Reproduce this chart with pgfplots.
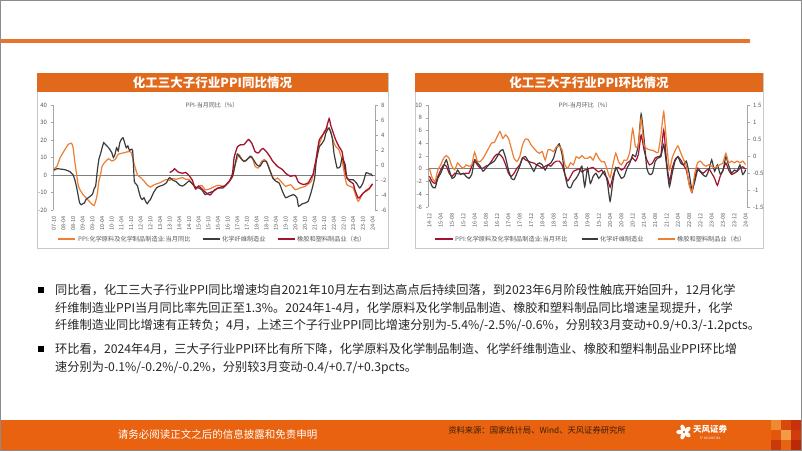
\documentclass[border=0pt]{standalone}
\usepackage{pgfplots}
\pgfplotsset{compat=1.18}
\usepackage{fontspec}
\setmainfont{Noto Sans CJK SC}
\definecolor{cOrange}{HTML}{EE7E32}
\definecolor{cGray}{HTML}{3C3C3C}
\definecolor{cRed}{HTML}{A3122E}
\definecolor{barOrange}{HTML}{E0691C}
\definecolor{axGray}{HTML}{A6A6A6}
\definecolor{zeroGray}{HTML}{7F7F7F}
\definecolor{lblGray}{HTML}{595959}
\definecolor{panelGray}{HTML}{C8C8C8}
\definecolor{footOrange}{HTML}{E8620F}
\definecolor{topOrange}{HTML}{E8732A}
\definecolor{txt}{HTML}{262626}
\definecolor{srcTxt}{HTML}{3B1E0A}
\definecolor{slideBorder}{HTML}{8C8C8C}
\definecolor{sqA}{HTML}{F08A30}
\definecolor{sqB}{HTML}{D9480C}
\definecolor{sqC}{HTML}{C8320A}
\definecolor{sqD}{HTML}{E2560E}
\definecolor{sqE}{HTML}{F29A45}
\definecolor{sqF}{HTML}{D03C0B}
\definecolor{sqG}{HTML}{C93A0A}
\definecolor{sqH}{HTML}{E4640F}
\definecolor{sqI}{HTML}{B92A08}

\pgfplotsset{
  chartbase/.style={
    scale only axis, anchor=south west,
    axis line style={draw=axGray, line width=0.6pt},
    tick style={draw=axGray, line width=0.5pt},
    major tick length=2.5pt,
    tick align=outside,
    ticklabel style={font=\fontsize{6}{7}\selectfont, text=lblGray},
    /pgf/number format/assume math mode=true,
    clip=false,
  },
}

\begin{document}
\begin{tikzpicture}[x=1pt,y=1pt]
\useasboundingbox (0,0) rectangle (802,-451);
\fill[white] (0,0) rectangle (802,-451);

% top orange rule
\fill[topOrange] (0,-39) rectangle (750,-42.5);

% ---------------- panels ----------------
\draw[panelGray, line width=0.8pt] (37,-73) rectangle (388,-248);
\fill[barOrange] (37,-73) rectangle (388,-92);
\node[text=white, font=\fontsize{12.5}{13}\selectfont\bfseries] at (212.5,-82.5) {化工三大子行业PPI同比情况};

\draw[panelGray, line width=0.8pt] (415,-73) rectangle (763,-248);
\fill[barOrange] (415,-73) rectangle (763,-92);
\node[text=white, font=\fontsize{12.5}{13}\selectfont\bfseries] at (589,-82.5) {化工三大子行业PPI环比情况};

% ---------------- left chart: YoY ----------------
\begin{axis}[chartbase, at={(53pt,-210pt)}, width=322pt, height=105pt,
  xmin=-0.5, xmax=199.5, ymin=-20, ymax=40,
  axis y line*=left, axis x line*=bottom, x axis line style={draw=none},
  xtick={0,6,...,198},
  xticklabels={07-10,08-04,08-10,09-04,09-10,10-04,10-10,11-04,11-10,12-04,12-10,13-04,13-10,14-04,14-10,15-04,15-10,16-04,16-10,17-04,17-10,18-04,18-10,19-04,19-10,20-04,20-10,21-04,21-10,22-04,22-10,23-04,23-10,24-04},
  xticklabel style={rotate=90, anchor=east, font=\fontsize{5.5}{6}\selectfont},
  x tick style={draw=none},
  ytick={-20,-10,...,40}]
\draw[zeroGray, line width=0.6pt] (axis cs:-0.5,0) -- (axis cs:199.5,0);
\addplot[cOrange, line width=1.2pt, smooth, tension=0.3] coordinates {
(0,3.5)(2,5)(4,10)(7,14.7)(9,17.5)(11,18.2)(12,15.5)(13,8)(15,-5)(16,-8)(18,-11)(20,-13)(22,-15)(24,-17)(25,-17.5)(26,-15)(27,-11)(28,-3.5)(29,0)(30,5)(32,7.6)(34,9.3)(36,8)(38,8.8)(40,11.8)(42,12.4)(44,12.8)(46,13.3)(48,13)(50,6)(52,0)(54,-1.5)(56,-3.4)(58,-5.7)(60,-6.9)(62,-5.7)(64,-5)(66,-4.4)(68,-3.4)(70,-2.5)(72,-3)(74,-2)(76,-2.5)(78,-1.9)(80,-1.5)(82,-2.5)(84,-2.5)(86,-5)(88,-7.2)(90,-6.5)(92,-6)(94,-8.4)(96,-8.2)(98,-7.4)(100,-6.5)(102,-5.9)(104,-6.2)(106,-6.5)(108,-4.5)(109,-3.6)(111,-0.8)(113,6.9)(115,11.6)(117,8.8)(119,7.8)(121,9.7)(123,10.7)(125,5)(127,4)(129,7.8)(131,8.8)(133,5.9)(135,1.1)(137,-2.7)(139,-1.7)(141,-3.6)(144,-6.5)(147,-5.5)(150,-8.4)(153,-7.4)(156,-6.5)(159,-4.5)(160,-3.6)(162,4)(164,15.4)(166,20.2)(168,25)(170,27)(172,25)(173,21)(175,16.4)(177,14.5)(179,8.8)(181,-2)(182,-5.5)(184,-6.5)(186,-7.4)(188,-13)(189,-15)(190,-14)(192,-10.3)(194,-9.3)(196,-8)(197,-6.3)(198,-5.4)
};
\addplot[cGray, line width=1.2pt, smooth, tension=0.3] coordinates {
(0,2.7)(2,3.6)(4,3.4)(6,3.2)(8,2.7)(10,1.9)(12,0)(13,-2.5)(14,-6.3)(15,-11)(16,-15.8)(17,-17)(18,-16.4)(19,-16)(20,-14)(22,-12.6)(24,-11)(25,-8)(26,-6.3)(27,2.3)(28,9)(29,12)(30,15.6)(31,18.5)(32,17.5)(34,15.6)(36,12.8)(37,10)(38,11.8)(39,15.6)(40,13.7)(41,18.5)(42,20.4)(43,21.3)(44,18.5)(45,15.6)(46,16.6)(47,14)(48,14.7)(49,13.7)(50,-3.4)(51,-5)(52,-6.3)(53,-10)(54,-13)(55,-14)(56,-13)(57,-15)(58,-16.4)(59,-15)(60,-14)(62,-10)(64,-7.2)(66,-6.3)(68,-5.7)(70,-4.4)(71,-2.5)(72,-1.5)(74,-3)(76,-3.8)(78,-5.7)(80,-6.3)(82,-5)(84,-3.4)(86,-5)(88,-6.9)(90,-7.4)(92,-8.5)(94,-11.2)(96,-10.3)(99,-9.3)(102,-7.4)(105,-7.4)(108,-4.6)(111,-0.8)(113,7.8)(114,12)(116,9.7)(118,7.8)(120,8.8)(122,10.7)(124,8.8)(126,5.9)(128,5)(130,7.8)(132,7.8)(134,3)(136,-1.7)(138,-3.6)(140,-4.6)(142,-9.3)(144,-13)(146,-12.2)(149,-11.2)(151,-13)(152,-17.9)(154,-16.6)(156,-16)(158,-15)(160,-9.3)(162,-1.7)(163,7.8)(165,16.4)(166,17.3)(168,20.2)(169,24)(171,26.9)(173,21)(174,12.6)(176,4)(178,5)(179,9.7)(181,5.9)(182,-1.7)(184,-2.7)(186,-2.7)(188,-4.6)(190,-7.4)(192,-4.6)(194,1.3)(196,0.6)(197,0.6)(198,-0.6)
};
\end{axis}
\begin{axis}[chartbase, at={(53pt,-210pt)}, width=322pt, height=105pt,
  xmin=-0.5, xmax=199.5, ymin=-6, ymax=8,
  axis y line*=right, axis x line=none, ytick={-6,-4,...,8}]
\addplot[cRed, line width=1.3pt, smooth, tension=0.3] coordinates {
(72,-1.0)(74,-0.75)(75,-0.5)(77,-0.9)(78,-1.0)(80,-1.1)(82,-1.0)(84,-1.4)(86,-2.0)(88,-3.2)(90,-2.8)(92,-3.2)(94,-3.6)(97,-4.0)(100,-3.3)(103,-3.0)(106,-2.8)(109,-2.2)(111,-1.1)(112,1.0)(114,2.4)(116,2.7)(118,2.7)(120,3.2)(121,3.4)(123,2.9)(125,1.8)(127,1.6)(129,2.1)(130,2.2)(132,1.8)(134,1.2)(136,0.5)(139,-0.2)(142,-0.6)(144,-1.1)(147,-1.5)(150,-1.4)(152,-2.3)(155,-2.6)(158,-2.4)(160,-1.6)(161,-1.3)(162,-0.2)(163,0.8)(164,2.3)(165,3.4)(167,4.0)(169,4.7)(171,6.2)(172,5.3)(174,4.0)(175,3.4)(177,2.5)(179,1.8)(180,0.5)(181,-0.8)(182,-1.7)(184,-2.2)(186,-2.5)(187,-3.3)(189,-4.4)(190,-4.3)(192,-3.8)(194,-3.4)(196,-3.1)(197,-2.8)(198,-2.5)
};
\end{axis}
\node[font=\fontsize{6}{7}\selectfont, text=lblGray] at (212,-105) {PPI-当月同比（\%）};
% legend left
\draw[cOrange, line width=1.3pt] (58,-239) -- (75,-239);
\node[anchor=west, inner sep=0, font=\fontsize{6.2}{7}\selectfont, text=lblGray] at (78,-239) {PPI:化学原料及化学制品制造业:当月同比};
\draw[cGray, line width=1.3pt] (203,-239) -- (220,-239);
\node[anchor=west, inner sep=0, font=\fontsize{6.2}{7}\selectfont, text=lblGray] at (222,-239) {化学纤维制造业};
\draw[cRed, line width=1.3pt] (278,-239) -- (295,-239);
\node[anchor=west, inner sep=0, font=\fontsize{6.2}{7}\selectfont, text=lblGray] at (297,-239) {橡胶和塑料制品业（右）};

% ---------------- right chart: MoM ----------------
\begin{axis}[chartbase, at={(428pt,-207pt)}, width=319pt, height=102pt,
  xmin=-0.5, xmax=112.5, ymin=-6, ymax=10,
  axis y line*=left, axis x line*=bottom, x axis line style={draw=none},
  xtick={0,4,...,112},
  xticklabels={14-12,15-04,15-08,15-12,16-04,16-08,16-12,17-04,17-08,17-12,18-04,18-08,18-12,19-04,19-08,19-12,20-04,20-08,20-12,21-04,21-08,21-12,22-04,22-08,22-12,23-04,23-08,23-12,24-04},
  xticklabel style={rotate=90, anchor=east, font=\fontsize{5.5}{6}\selectfont},
  x tick style={draw=none},
  ytick={-6,-4,...,10}]
\draw[zeroGray, line width=0.6pt] (axis cs:-0.5,0) -- (axis cs:112.5,0);
\addplot[cRed, line width=1.2pt, smooth, tension=0.3] coordinates {
(0,-1.2)(1,-2)(2,-2.3)(3,-1.2)(4,-0.2)(5,0.6)(6,0.4)(7,-0.7)(8,-1.2)(9,-0.7)(10,-0.8)(11,-0.8)(12,-0.8)(13,-0.7)(14,-0.7)(15,0.4)(16,1.2)(17,0.6)(18,0.1)(19,0.1)(20,0.4)(21,0.6)(22,1.2)(23,1.9)(24,2.3)(25,2.2)(26,1.7)(27,0.6)(28,-0.7)(29,-1.2)(30,-0.7)(31,0.1)(32,0.6)(33,1.7)(34,1.4)(35,1.2)(36,1.0)(37,0.9)(38,0.6)(39,0.4)(40,0.1)(41,0.4)(42,0.6)(43,0.4)(44,0.9)(45,1.2)(46,1.2)(47,0.6)(48,-0.9)(49,-1.9)(50,-1.2)(51,-0.4)(52,-0.2)(53,0)(54,-0.5)(55,-0.2)(56,-0.1)(57,0.1)(58,0.2)(59,-0.2)(60,-0.5)(61,-0.2)(62,-0.9)(63,-1.5)(64,-2.9)(65,-1.2)(66,0)(67,0.2)(68,-0.2)(69,0.1)(70,0.9)(71,1.2)(72,1.7)(73,1.2)(74,2.2)(75,5.3)(76,3.0)(77,1.4)(78,0.6)(79,0.9)(80,1.7)(81,1.9)(82,2.2)(83,6.1)(84,1.2)(85,-2.0)(86,0.1)(87,1.4)(88,1.9)(89,1.4)(90,0.6)(91,-0.2)(92,-2.3)(93,-3.7)(94,-1.5)(95,0.1)(96,-0.4)(97,-0.7)(98,-0.3)(99,0)(100,-0.7)(101,-1.5)(102,-2.6)(103,-1.2)(104,-0.2)(105,0.9)(106,-0.2)(107,-0.9)(108,-0.7)(109,-0.4)(110,0.1)(111,0.3)(112,-0.1)
};
\addplot[cGray, line width=1.2pt, smooth, tension=0.3] coordinates {
(0,-1.7)(1,-2.8)(2,-3)(3,-1.5)(4,-0.7)(5,0.4)(6,1.4)(7,-0.2)(8,-1.5)(9,-1.2)(10,-0.2)(11,-0.9)(12,-0.7)(13,-1.2)(14,-1.5)(15,-0.9)(16,1.4)(17,0.9)(18,0.4)(19,-0.4)(20,0.1)(21,0.6)(22,0.9)(23,1.2)(24,1.9)(25,2.7)(26,3)(27,1.7)(28,-0.2)(29,-1.5)(30,-1.7)(31,-0.7)(32,0.4)(33,1.7)(34,1.9)(35,1.2)(36,0.4)(37,-0.4)(38,0.6)(39,0.9)(40,0.6)(41,-0.2)(42,0.6)(43,0.9)(44,1.7)(45,3.2)(46,3.9)(47,2.2)(48,-0.9)(49,-2.8)(50,-3)(51,-2)(52,-1.5)(53,-0.7)(54,0.4)(55,-2.8)(56,0.1)(57,-2.3)(58,-1.2)(59,-0.7)(60,-1.5)(61,-0.9)(62,-0.4)(63,-2)(64,-5.1)(65,-2)(66,0.2)(67,-0.7)(68,-1.5)(69,-1.2)(70,0.1)(71,0.9)(72,2.2)(73,1.9)(74,3.8)(75,8.6)(76,4.8)(77,0.1)(78,-0.9)(79,-0.7)(80,1.2)(81,1.7)(82,1.9)(83,3.8)(84,0.6)(85,-2.8)(86,-0.7)(87,1.2)(88,1.9)(89,0.9)(90,0.6)(91,1.2)(92,-0.7)(93,-3.3)(94,-2)(95,-0.2)(96,-0.5)(97,-1)(98,-1.2)(99,-0.2)(100,1.4)(101,-0.4)(102,0.6)(103,-0.8)(104,-0.3)(105,1.9)(106,0.5)(107,-0.7)(108,-0.2)(109,-0.4)(110,0.6)(111,-0.9)(112,-0.2)
};
\end{axis}
\begin{axis}[chartbase, at={(428pt,-207pt)}, width=319pt, height=102pt,
  xmin=-0.5, xmax=112.5, ymin=-1.5, ymax=1.5,
  axis y line*=right, axis x line=none, ytick={-1.5,-1,...,1.5}]
\addplot[cOrange, line width=1.2pt, smooth, tension=0.3] coordinates {
(0,-0.36)(1,-0.65)(2,-0.75)(3,-0.4)(4,-0.26)(5,-0.07)(6,0.01)(7,-0.07)(8,-0.31)(9,-0.4)(10,-0.2)(11,-0.3)(12,-0.36)(13,-0.26)(14,-0.3)(15,-0.26)(16,0.11)(17,-0.16)(18,-0.16)(19,-0.07)(20,0.08)(21,0.23)(22,0.38)(23,0.4)(24,0.57)(25,0.72)(26,0.52)(27,0.62)(28,0.52)(29,0.23)(30,-0.07)(31,-0.16)(32,-0.02)(33,0.33)(34,0.5)(35,0.48)(36,0.33)(37,0.23)(38,0.13)(39,0.08)(40,0.13)(41,-0.12)(42,0.18)(43,0.18)(44,0.13)(45,0.28)(46,0.28)(47,0.18)(48,-0.26)(49,-0.36)(50,-0.2)(51,-0.26)(52,-0.02)(53,-0.07)(54,0.01)(55,-0.07)(56,-0.07)(57,-0.02)(58,-0.12)(59,0.08)(60,-0.07)(61,-0.17)(62,-0.17)(63,-0.41)(64,-0.63)(65,-0.26)(66,0.08)(67,-0.17)(68,-0.26)(69,-0.12)(70,-0.12)(71,0.13)(72,0.8)(73,0.27)(74,0.32)(75,1.1)(76,0.32)(77,0.22)(78,0.18)(79,0.17)(80,0.13)(81,0.1)(82,0.6)(83,1.3)(84,0.4)(85,-0.4)(86,-0.05)(87,0.15)(88,0.3)(89,0.1)(90,-0.1)(91,-0.3)(92,-0.85)(93,-1.05)(94,-0.5)(95,-0.2)(96,-0.15)(97,-0.25)(98,-0.3)(99,-0.25)(100,-0.3)(101,-0.35)(102,-0.3)(103,-0.25)(104,-0.2)(105,0.08)(106,-0.2)(107,-0.15)(108,-0.2)(109,-0.15)(110,-0.2)(111,-0.15)(112,-0.25)
};
\end{axis}
\node[font=\fontsize{6}{7}\selectfont, text=lblGray] at (585,-105.5) {PPI-当月环比（\%）};
% legend right
\draw[cRed, line width=1.3pt] (435,-239) -- (453,-239);
\node[anchor=west, inner sep=0, font=\fontsize{6.2}{7}\selectfont, text=lblGray] at (455,-239) {PPI:化学原料及化学制品制造业:当月环比};
\draw[cGray, line width=1.3pt] (582,-239) -- (598,-239);
\node[anchor=west, inner sep=0, font=\fontsize{6.2}{7}\selectfont, text=lblGray] at (600,-239) {化学纤维制造业};
\draw[cOrange, line width=1.3pt] (658,-239) -- (675,-239);
\node[anchor=west, inner sep=0, font=\fontsize{6.2}{7}\selectfont, text=lblGray] at (677,-239) {橡胶和塑料制品业（右）};

% ---------------- bullet text ----------------
\fill[black] (38,-287) rectangle (44,-293);
\fill[black] (38,-346) rectangle (44,-352);
\begin{scope}[every node/.style={anchor=base west, inner sep=0, text=txt, font=\fontsize{12.2}{14}\selectfont}]
\node at (55,-294.5) {同比看，化工三大子行业PPI同比增速均自2021年10月左右到达高点后持续回落，到2023年6月阶段性触底开始回升，12月化学};
\node at (55,-312) {纤维制造业PPI当月同比率先回正至1.3\%。2024年1-4月，化学原料及化学制品制造、橡胶和塑料制品同比增速呈现提升，化学};
\node at (55,-329.5) {纤维制造业同比增速有正转负；4月，上述三个子行业PPI同比增速分别为-5.4\%/-2.5\%/-0.6\%，分别较3月变动+0.9/+0.3/-1.2pcts。};
\node at (55,-353.5) {环比看，2024年4月，三大子行业PPI环比有所下降，化学原料及化学制品制造、化学纤维制造业、橡胶和塑料制品业PPI环比增};
\node at (55,-371.5) {速分别为-0.1\%/-0.2\%/-0.2\%，分别较3月变动-0.4/+0.7/+0.3pcts。};
\end{scope}

% ---------------- footer ----------------
\fill[footOrange] (0,-420) rectangle (802,-450);
\fill[sqA] (771,-420) rectangle (781,-430);
\fill[sqB] (781,-420) rectangle (791,-430);
\fill[sqC] (791,-420) rectangle (802,-430);
\fill[sqD] (771,-430) rectangle (781,-440);
\fill[sqE] (781,-430) rectangle (791,-440);
\fill[sqF] (791,-430) rectangle (802,-440);
\fill[sqG] (771,-440) rectangle (781,-450);
\fill[sqH] (781,-440) rectangle (791,-450);
\fill[sqI] (791,-440) rectangle (802,-450);
\node[text=white, font=\fontsize{10.5}{12}\selectfont] at (217.5,-434) {请务必阅读正文之后的信息披露和免责申明};
\node[text=srcTxt, font=\fontsize{8.3}{10}\selectfont] at (537,-430) {资料来源：国家统计局、Wind、天风证券研究所};
% logo
\begin{scope}[shift={(684,-432)}]
\foreach \a in {90,162,234,306,18} {\fill[white, rotate=\a] (0,4.2) ellipse (2.2 and 3.6);}
\fill[footOrange] (0,0) circle (1.2);
\end{scope}
\node[text=white, font=\fontsize{8.5}{10}\selectfont\bfseries] at (710,-429) {天风证券};
\node[text=white, font=\fontsize{3}{4}\selectfont] at (710,-438.5) {TF SECURITIES};

% slide border
\draw[slideBorder, line width=1pt] (0.5,-0.5) rectangle (801.5,-450.5);
\end{tikzpicture}
\end{document}
